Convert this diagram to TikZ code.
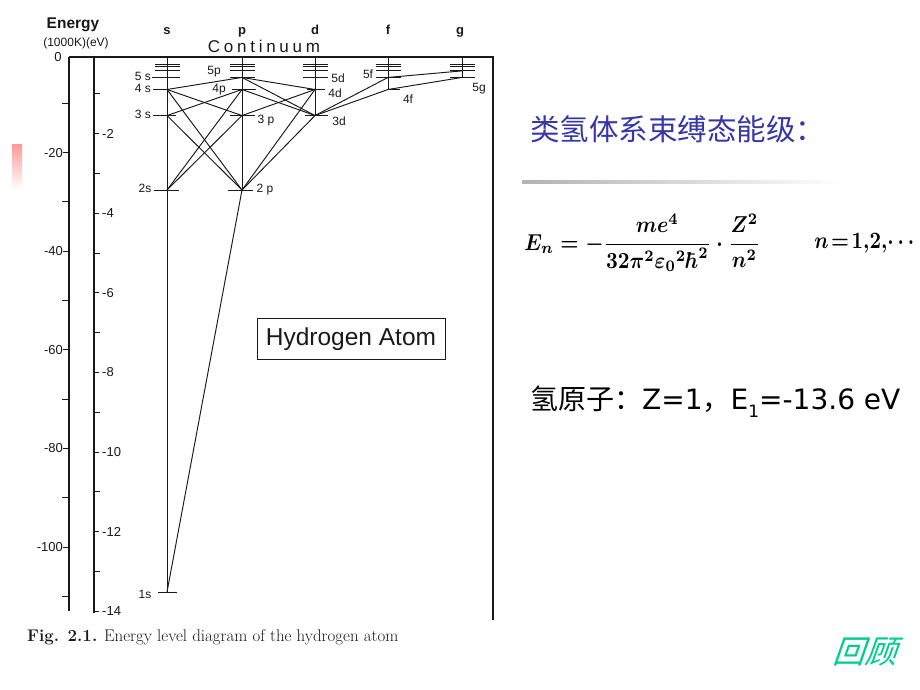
\documentclass[tikz,border=0pt]{standalone}
\usepackage{fontspec}
\newfontfamily\hsans{Liberation Sans}
\newfontfamily\contfont[LetterSpace=22]{Liberation Sans}
\newfontfamily\cjk{Noto Sans CJK SC}
\newfontfamily\dvs{DejaVu Sans}
\usetikzlibrary{calc}
\definecolor{titleblue}{RGB}{55,55,165}
\definecolor{reviewgreen}{RGB}{0,205,140}
\definecolor{ink}{RGB}{25,25,25}
\tikzset{
  axisline/.style={ink,line width=2.3pt},
  frameline/.style={ink,line width=1.4pt},
  colline/.style={ink,line width=1pt},
  lev/.style={ink,line width=1pt},
  trans/.style={ink,line width=0.95pt},
  tick/.style={ink,line width=1pt},
  axlab/.style={font=\hsans\fontsize{13}{14}\selectfont,ink,inner sep=0pt},
  levlab/.style={font=\hsans\fontsize{12}{13}\selectfont,ink,inner sep=0pt},
  collab/.style={font=\hsans\bfseries\fontsize{13}{14}\selectfont,ink,inner sep=0pt,anchor=base},
  mathbold/.style={inner sep=0pt,font=\boldmath},
}
\begin{document}
\begin{tikzpicture}[x=1pt,y=-1pt]
\useasboundingbox (0,0) rectangle (920,690);
\fill[white] (0,0) rectangle (920,690);

% faint pink mark at the left
\shade[top color=red!40,bottom color=white] (12,144) rectangle (22,190);

% ---------- header ----------
\node[font=\hsans\bfseries\fontsize{15.5}{16}\selectfont,ink,inner sep=0pt] (energy) at (73,25) {Energy};
\node[font=\hsans\fontsize{12}{13}\selectfont,ink,inner sep=0pt] (units) at (76,43) {(1000K)(eV)};
\node[collab] (ls) at (167,35) {s};
\node[collab] (lp) at (242,35) {p};
\node[collab] (ld) at (315,35) {d};
\node[collab] (lf) at (388,35) {f};
\node[collab] (lg) at (460,35) {g};
\node[font=\contfont\fontsize{17}{18}\selectfont,ink,inner sep=0pt] (cont) at (264,46.5) {Continuum};

% ---------- frame and axes ----------
\coordinate (tl) at (69,57);
\coordinate (tr) at (493,57);
\coordinate (br) at (493,620);
\coordinate (kbot) at (69,611);
\coordinate (etop) at (94,57);
\coordinate (ebot) at (94,613);
\draw[frameline] (tl) -- (tr) -- (br);
\draw[axisline] (tl) -- (kbot);
\draw[axisline] (etop) -- (ebot);

% kK axis ticks: y = 54 + 4.93 k
\node[axlab] (k0) at (58,57) {0};
\foreach \k/\lab in {20/-20,40/-40,60/-60,80/-80,100/-100} {
  \pgfmathsetmacro{\yy}{54+4.93*\k}
  \draw[tick] (63,\yy) -- (69,\yy);
  \node[axlab,anchor=east] (k\k) at (63,\yy) {\lab};
}
\foreach \k in {10,30,50,70,90,110} {
  \pgfmathsetmacro{\yy}{54+4.93*\k}
  \draw[tick] (62,\yy) -- (69,\yy);
}
% eV axis ticks: y = 54 + 39.8 E
\foreach \e in {2,4,...,14} {
  \pgfmathsetmacro{\yy}{54+39.8*\e}
  \draw[tick] (94,\yy) -- (99,\yy);
  \node[axlab,anchor=west] (e\e) at (102,\yy) {-\e};
}
\foreach \e in {1,3,...,13} {
  \pgfmathsetmacro{\yy}{54+39.8*\e}
  \draw[tick] (94,\yy) -- (100,\yy);
}

% ---------- level coordinates ----------
\foreach \c/\x/\l in {s/167/1,p/242/2,d/315/3,f/388/4,g/462/5} {
  \foreach \n in {\l,...,8} {
    \pgfmathsetmacro{\yy}{56+536/(\n*\n)}
    \coordinate (\c\n) at (\x,\yy);
  }
}
\coordinate (top) at (0,57);

% column lines
\draw[colline] (s1) -- (s1 |- top);
\draw[colline] (p2) -- (p2 |- top);
\draw[colline] (d3) -- (d3 |- top);
\draw[colline] (f4) -- (f4 |- top);
\draw[colline] (g5) -- (g5 |- top);

% high-n bars
\foreach \c in {s,p,d,f,g} {
  \foreach \n in {5,6,7,8} {
    \draw[lev] ($(\c\n)+(-12,0)$) -- ($(\c\n)+(13,0)$);
  }
}
% lower level dashes
\draw[lev] ($(s5)+(-15,0)$) -- (s5);
\draw[lev] ($(s4)+(-14,0)$) -- ($(s4)+(2,0)$);
\draw[lev] ($(s3)+(-14,0)$) -- ($(s3)+(9,0)$);
\draw[lev] ($(s2)+(-13,0)$) -- ($(s2)+(12,0)$);
\draw[lev] ($(s1)+(-9,0)$) -- ($(s1)+(10,0)$);
\draw[lev] ($(p4)+(-10,0)$) -- ($(p4)+(14,0)$);
\draw[lev] ($(p3)+(-12,0)$) -- ($(p3)+(13,0)$);
\draw[lev] ($(p2)+(-14,0)$) -- ($(p2)+(11,0)$);
\draw[lev] ($(d4)+(-8,0)$) -- ($(d4)+(10,0)$);
\draw[lev] ($(d3)+(-10,0)$) -- ($(d3)+(13,0)$);
\draw[lev] (f4) -- ($(f4)+(12,0)$);

% level labels
\node[levlab] (t5s) at (143,76) {5 s};
\node[levlab] (t4s) at (143,88) {4 s};
\node[levlab] (t3s) at (143,114) {3 s};
\node[levlab] (t2s) at (145,188) {2s};
\node[levlab] (t1s) at (145,594) {1s};
\node[levlab] (t5p) at (214,72) {5p};
\node[levlab] (t4p) at (219,90) {4p};
\node[levlab] (t3p) at (266,121) {3 p};
\node[levlab] (t2p) at (265,190) {2 p};
\node[levlab] (t5d) at (338,78) {5d};
\node[levlab] (t4d) at (335,93) {4d};
\node[levlab] (t3d) at (339,121) {3d};
\node[levlab] (t5f) at (368,74) {5f};
\node[levlab] (t4f) at (408,99) {4f};
\node[levlab] (t5g) at (479,89) {5g};

% ---------- transitions ----------
\draw[trans] (s1) -- (p2);
\draw[trans] (s2) -- (p3);
\draw[trans] (s2) -- (p4);
\draw[trans] (s3) -- (p2);
\draw[trans] (s3) -- (p4);
\draw[trans] (s4) -- (p2);
\draw[trans] (s4) -- (p3);
\draw[trans] (s4) -- (p5);
\draw[trans] (p2) -- (d3);
\draw[trans] (p2) -- (d4);
\draw[trans] (p3) -- (d4);
\draw[trans] (p4) -- (d3);
\draw[trans] (p5) -- (d3);
\draw[trans] (p5) -- (d4);
\draw[trans] (d3) -- (f4);
\draw[trans] (d3) -- (f5);
\draw[trans] (f4) -- (g5);
\draw[trans] (f5) -- (g6);

% ---------- Hydrogen Atom box ----------
\node[draw=ink,line width=1pt,minimum width=188pt,minimum height=41pt,inner sep=0pt,
      font=\hsans\fontsize{24.5}{25}\selectfont,text=ink] (hbox) at (351,339) {Hydrogen Atom};

% ---------- caption ----------
\node[anchor=west,inner sep=0pt,font=\fontsize{16.9}{18}\selectfont,ink] (cap) at (27,637)
  {\textbf{Fig. 2.1.} Energy level diagram of the hydrogen atom};

% ---------- right side ----------
\node[anchor=west,inner sep=0pt,font=\cjk\fontsize{29.5}{30}\selectfont,text=titleblue] (title) at (530,129)
  {类氢体系束缚态能级：};
\shade[left color=black!30,right color=white] (522,180) rectangle (845,183);
\node[mathbold,xscale=2.05,yscale=2.3,anchor=west] (formula) at (524,243)
  {$\displaystyle E_n=-\frac{me^4}{32\pi^2\varepsilon_0{}^2\hbar^2}\cdot\frac{Z^2}{n^2}$};
\node[mathbold,xscale=2.0,yscale=2.35,anchor=west] (nvals) at (814,243) {$n\!=\!1,\!2,\!\cdots$};
\node[anchor=west,inner sep=0pt,font=\fontsize{28}{29}\selectfont] (hyd) at (530,402)
  {{\cjk 氢原子：}{\dvs Z=1}{\cjk ，}{\dvs E\raisebox{-0.28em}{\fontsize{17}{17}\selectfont 1}=-13.6 eV}};
\node[inner sep=0pt,font=\cjk\fontsize{32}{33}\selectfont,text=reviewgreen,xslant=0.35] (review) at (869,652) {回顾};
\end{tikzpicture}
\end{document}
